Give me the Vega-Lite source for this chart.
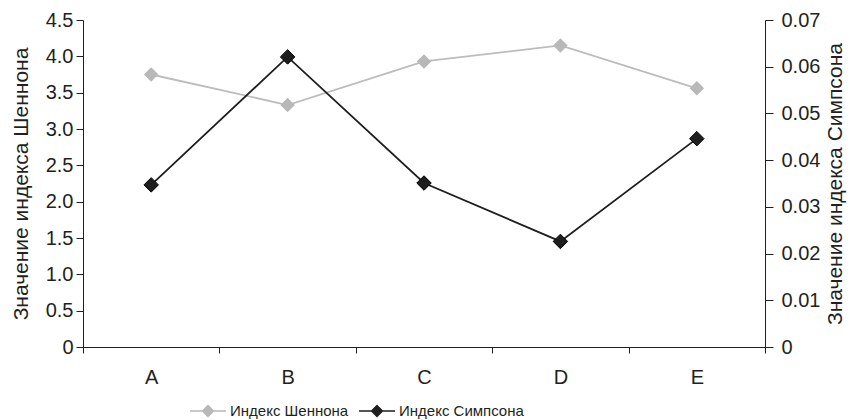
{
  "$schema": "https://vega.github.io/schema/vega-lite/v6.json",
  "width": 682,
  "height": 327,
  "autosize": {"type": "none"},
  "padding": {"left": 83, "top": 20, "right": 85, "bottom": 73},
  "config": {
    "font": "Liberation Sans",
    "view": {"stroke": null},
    "style": {"guide-label": {"fontSize": 20, "fill": "#231f20"}, "guide-title": {"fontSize": 21, "fill": "#231f20", "fontWeight": "normal"}},
    "axis": {"grid": false, "domainColor": "#231f20", "tickColor": "#231f20", "domainWidth": 1, "tickWidth": 1}
  },
  "data": {
    "values": [
      {"cat": "A", "index": "Индекс Шеннона", "value": 3.75},
      {"cat": "B", "index": "Индекс Шеннона", "value": 3.33},
      {"cat": "C", "index": "Индекс Шеннона", "value": 3.93},
      {"cat": "D", "index": "Индекс Шеннона", "value": 4.15},
      {"cat": "E", "index": "Индекс Шеннона", "value": 3.56},
      {"cat": "A", "index": "Индекс Симпсона", "value": 0.0347},
      {"cat": "B", "index": "Индекс Симпсона", "value": 0.0621},
      {"cat": "C", "index": "Индекс Симпсона", "value": 0.0351},
      {"cat": "D", "index": "Индекс Симпсона", "value": 0.0226},
      {"cat": "E", "index": "Индекс Симпсона", "value": 0.0446}
    ]
  },
  "encoding": {
    "x": {
      "field": "cat", "type": "nominal",
      "scale": {"paddingInner": 0, "paddingOuter": 0},
      "axis": {"title": null, "labelAngle": 0, "tickBand": "extent", "tickSize": 6, "labelPadding": 14}
    }
  },
  "layer": [
    {
      "transform": [{"filter": "datum.index == 'Индекс Шеннона'"}],
      "encoding": {
        "y": {
          "field": "value", "type": "quantitative",
          "scale": {"domain": [0, 4.5], "nice": false},
          "axis": {"title": "Значение индекса Шеннона", "orient": "left", "values": [0, 0.5, 1, 1.5, 2, 2.5, 3, 3.5, 4, 4.5], "labelExpr": "datum.value == 0 ? '0' : format(datum.value, '.1f')", "tickSize": 7, "labelPadding": 3, "titlePadding": 14}
        }
      },
      "layer": [
        {"mark": {"type": "line", "color": "#bcbcbc", "strokeWidth": 1.8}},
        {
          "mark": {"type": "point", "shape": "diamond", "filled": true, "size": 210, "opacity": 1},
          "encoding": {
            "color": {
              "field": "index", "type": "nominal",
              "scale": {"domain": ["Индекс Шеннона", "Индекс Симпсона"], "range": ["#b8b8b8", "#1e1e1e"]},
              "legend": {
                "title": null, "orient": "none", "direction": "horizontal",
                "legendX": 107, "legendY": 373,
                "symbolType": "M-1,-0.045L1,-0.045L1,0.045L-1,0.045Z M0,-0.36L0.36,0L0,0.36L-0.36,0Z",
                "symbolSize": 1296, "symbolStrokeWidth": 0, "symbolOpacity": 1,
                "labelFontSize": 15, "labelColor": "#231f20", "columnPadding": 10, "labelOffset": 4, "labelBaseline": "middle"
              }
            }
          }
        }
      ]
    },
    {
      "transform": [{"filter": "datum.index == 'Индекс Симпсона'"}],
      "encoding": {
        "y": {
          "field": "value", "type": "quantitative",
          "scale": {"domain": [0, 0.07], "nice": false},
          "axis": {"title": "Значение индекса Симпсона", "orient": "right", "values": [0, 0.01, 0.02, 0.03, 0.04, 0.05, 0.06, 0.07], "labelExpr": "datum.value == 0 ? '0' : format(datum.value, '.2f')", "tickSize": 8, "labelPadding": 8, "titlePadding": 5, "titleAngle": 270, "titleBaseline": "top"}
        }
      },
      "layer": [
        {"mark": {"type": "line", "color": "#1e1e1e", "strokeWidth": 1.8}},
        {
          "mark": {"type": "point", "shape": "diamond", "filled": true, "size": 210, "opacity": 1, "stroke": "#000000", "strokeWidth": 1},
          "encoding": {
            "color": {"field": "index", "type": "nominal"}
          }
        }
      ]
    }
  ],
  "resolve": {"scale": {"y": "independent"}}
}
